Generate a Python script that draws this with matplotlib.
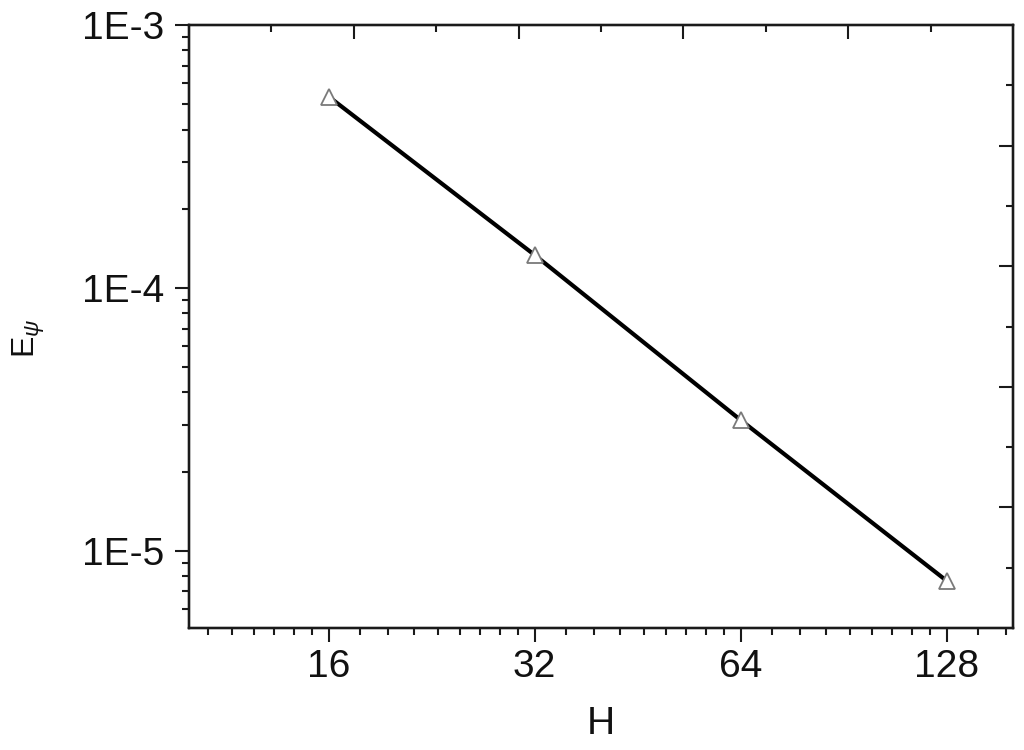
import numpy as np
import matplotlib
matplotlib.use("Agg")
import matplotlib.pyplot as plt
from matplotlib.ticker import FixedLocator, NullFormatter, LogLocator

# =============================================================================
# DATA
# =============================================================================

H = [16, 32, 64, 128]
E_psi = [5.34e-4, 1.333e-4, 3.14e-5, 7.68e-6]

xtick_values = [16, 32, 64, 128]
xtick_labels = ["16", "32", "64", "128"]
ytick_values = [1e-5, 1e-4, 1e-3]
ytick_labels = ["1E-5", "1E-4", "1E-3"]

# =============================================================================
# PLOT
# =============================================================================

plt.rcParams['font.family'] = ['Liberation Sans', 'DejaVu Sans']
plt.rcParams['mathtext.fontset'] = 'custom'
plt.rcParams['mathtext.rm'] = 'Liberation Sans'
plt.rcParams['mathtext.it'] = 'Liberation Sans:italic'

fig = plt.figure(figsize=(10.24, 7.5), dpi=100)
ax = fig.add_axes([189 / 1024, 1 - 628 / 750, 824 / 1024, 603 / 750])

ax.plot(H, E_psi, color="black", linewidth=3.0, zorder=2)
ax.plot(H, E_psi, linestyle="none", marker="^", markersize=11,
        markerfacecolor="white", markeredgecolor="#7a7a7a",
        markeredgewidth=1.3, zorder=3)

ax.set_xscale("log", base=2)
ax.set_yscale("log")
ax.set_xlim(10, 160)
ax.set_ylim(5.08e-6, 1e-3)

ax.set_xticks(xtick_values)
ax.set_xticklabels(xtick_labels)
# Origin style minor ticks: 8 linear steps inside every octave
minor_x = []
for base in [8, 16, 32, 64, 128]:
    for k in range(1, 9):
        minor_x.append(base + base * k / 9.0)
ax.xaxis.set_minor_locator(FixedLocator(minor_x))
ax.xaxis.set_minor_formatter(NullFormatter())

ax.set_yticks(ytick_values)
ax.set_yticklabels(ytick_labels)
ax.yaxis.set_minor_locator(LogLocator(base=10, subs=np.arange(2, 10)))
ax.yaxis.set_minor_formatter(NullFormatter())

ax.tick_params(axis="both", which="major", direction="out", length=10,
               width=1.5, labelsize=28, color="#1a1a1a", labelcolor="#111111")
ax.tick_params(axis="both", which="minor", direction="out", length=5,
               width=1.5, color="#1a1a1a")
ax.tick_params(axis="x", which="major", pad=5)
ax.tick_params(axis="y", which="major", pad=8)
ax.tick_params(top=False, right=False, which="both")

for s in ax.spines.values():
    s.set_linewidth(1.6)
    s.set_color("#1a1a1a")

# top and right axes: plain linear ticks pointing in
ax_top = ax.twiny()
ax_top.set_xlim(0, 1)
ax_top.xaxis.set_major_locator(FixedLocator([0.2, 0.4, 0.6, 0.8]))
ax_top.xaxis.set_minor_locator(FixedLocator([0.1, 0.3, 0.5, 0.7, 0.9]))
ax_top.tick_params(axis="x", which="major", direction="in", length=10,
                   width=1.5, labeltop=False, color="#1a1a1a")
ax_top.tick_params(axis="x", which="minor", direction="in", length=5,
                   width=1.5, color="#1a1a1a")

ax_right = ax.twinx()
ax_right.set_ylim(0, 1)
ax_right.yaxis.set_major_locator(FixedLocator([0.2, 0.4, 0.6, 0.8]))
ax_right.yaxis.set_minor_locator(FixedLocator([0.1, 0.3, 0.5, 0.7, 0.9]))
ax_right.tick_params(axis="y", which="major", direction="in", length=10,
                     width=1.5, labelright=False, color="#1a1a1a")
ax_right.tick_params(axis="y", which="minor", direction="in", length=5,
                     width=1.5, color="#1a1a1a")
for a in (ax_top, ax_right):
    for s in a.spines.values():
        s.set_linewidth(1.6)
        s.set_color("#1a1a1a")

ax.set_xlabel("H", fontsize=28, color="#111111")
ax.xaxis.set_label_coords(0.5, -0.13)
ax.set_ylabel(r"E$_{\psi}$", fontsize=23, color="#111111")
ax.yaxis.set_label_coords(-0.172, 0.48)

fig.savefig("out.png", dpi=100, facecolor="white")
